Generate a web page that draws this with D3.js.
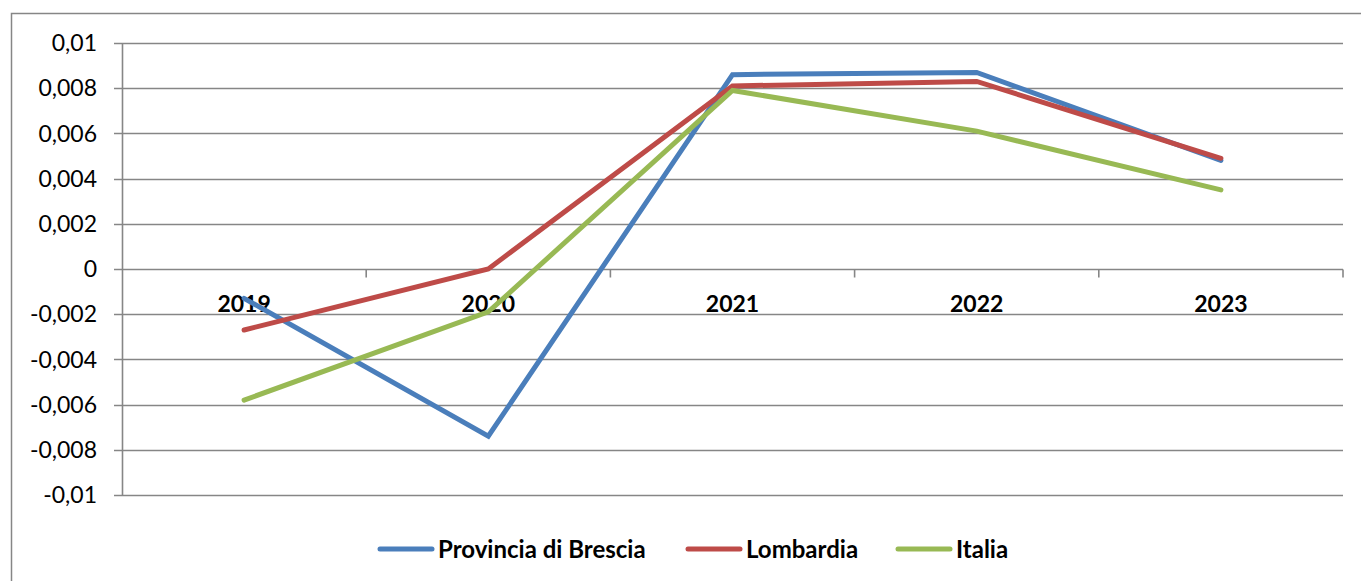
<!DOCTYPE html>
<html>
<head>
<meta charset="utf-8">
<script src="https://cdn.jsdelivr.net/npm/d3@7"></script>
<style>
  body { margin: 0; background: #fff; }
  text { font-family: Lato, "Open Sans", sans-serif; }
</style>
</head>
<body>
<div id="chart"></div>
<script>
// data
var years = ["2019", "2020", "2021", "2022", "2023"];
var brescia = [-0.0013, -0.0074, 0.0086, 0.0087, 0.0048];
var lombardia = [-0.0027, 0.0, 0.0081, 0.0083, 0.0049];
var italia = [-0.0058, -0.0019, 0.0079, 0.0061, 0.0035];
var seriesNames = ["Provincia di Brescia", "Lombardia", "Italia"];
var yTicks = [0.01, 0.008, 0.006, 0.004, 0.002, 0, -0.002, -0.004, -0.006, -0.008, -0.01];

var colors = ["#4a7ebb", "#be4b48", "#98b954"];
var series = [brescia, lombardia, italia];

var W = 1361, H = 581;
var margin = {top: 43, right: 18, bottom: 86, left: 122},
    width = W - margin.left - margin.right,
    height = H - margin.top - margin.bottom;

var svg = d3.select("#chart")
            .append("svg")
            .attr("width", W)
            .attr("height", H);

// outer chart frame (cut by the picture on the right and bottom)
svg.append("rect")
   .attr("x", 11.5).attr("y", 13.5)
   .attr("width", W + 20).attr("height", H + 20)
   .attr("fill", "none")
   .attr("stroke", "#868686")
   .attr("stroke-width", 1.5);

var g = svg.append("g")
           .attr("transform", "translate(" + margin.left + "," + margin.top + ")");

var x = d3.scaleBand().domain(years).range([0, width]);
var y = d3.scaleLinear().domain([-0.01, 0.01]).range([height, 0]);

var fmt = function(d) {
    if (d === 0) return "0";
    return String(+d.toFixed(3)).replace(".", ",");
};

// gridlines
g.append("g")
 .selectAll("line")
 .data(yTicks)
 .enter().append("line")
   .attr("x1", -8)
   .attr("x2", width)
   .attr("y1", function(d) { return Math.round(y(d)) + 0.5; })
   .attr("y2", function(d) { return Math.round(y(d)) + 0.5; })
   .attr("stroke", "#868686")
   .attr("stroke-width", 1.6);

// y axis line + labels
g.append("line")
 .attr("x1", 0.5).attr("x2", 0.5)
 .attr("y1", 0).attr("y2", height)
 .attr("stroke", "#868686")
 .attr("stroke-width", 1.6);

g.append("g")
 .selectAll("text")
 .data(yTicks)
 .enter().append("text")
   .attr("x", -25)
   .attr("y", function(d) { return y(d); })
   .attr("dy", "0.36em")
   .attr("text-anchor", "end")
   .style("font-size", "23px")
   .attr("fill", "#000")
   .text(fmt);

// x axis at zero with tick marks between categories
var zeroY = Math.round(y(0)) + 0.5;
g.append("g")
 .selectAll("line")
 .data(years)
 .enter().append("line")
   .attr("x1", function(d) { return x(d) + x.bandwidth(); })
   .attr("x2", function(d) { return x(d) + x.bandwidth(); })
   .attr("y1", zeroY)
   .attr("y2", zeroY + 8)
   .attr("stroke", "#868686")
   .attr("stroke-width", 1.6);

g.append("g")
 .selectAll("text")
 .data(years)
 .enter().append("text")
   .attr("x", function(d) { return x(d) + x.bandwidth() / 2; })
   .attr("y", zeroY + 42)
   .attr("text-anchor", "middle")
   .style("font-size", "23px")
   .attr("font-weight", "bold")
   .attr("fill", "#000")
   .text(function(d) { return d; });

// lines
var line = d3.line()
  .x(function(d, i) { return x(years[i]) + x.bandwidth() / 2; })
  .y(function(d) { return y(d); });

g.append("g")
 .selectAll("path")
 .data(series)
 .enter().append("path")
   .attr("d", line)
   .attr("fill", "none")
   .attr("stroke", function(d, i) { return colors[i]; })
   .attr("stroke-width", 5)
   .attr("stroke-linecap", "round")
   .attr("stroke-linejoin", "miter");

// legend
var legendX = [378, 686, 896];
var legend = svg.selectAll(".legend")
  .data(seriesNames)
  .enter().append("g")
  .attr("class", "legend")
  .attr("transform", function(d, i) { return "translate(" + legendX[i] + ",549)"; });

legend.append("line")
  .attr("x1", 2).attr("x2", 54)
  .attr("y1", 0).attr("y2", 0)
  .attr("stroke", function(d, i) { return colors[i]; })
  .attr("stroke-width", 5)
  .attr("stroke-linecap", "round");

legend.append("text")
  .attr("x", 60)
  .attr("dy", "0.36em")
  .style("font-size", "24px")
  .attr("font-weight", "bold")
  .attr("fill", "#000")
  .text(function(d) { return d; });
</script>
</body>
</html>
